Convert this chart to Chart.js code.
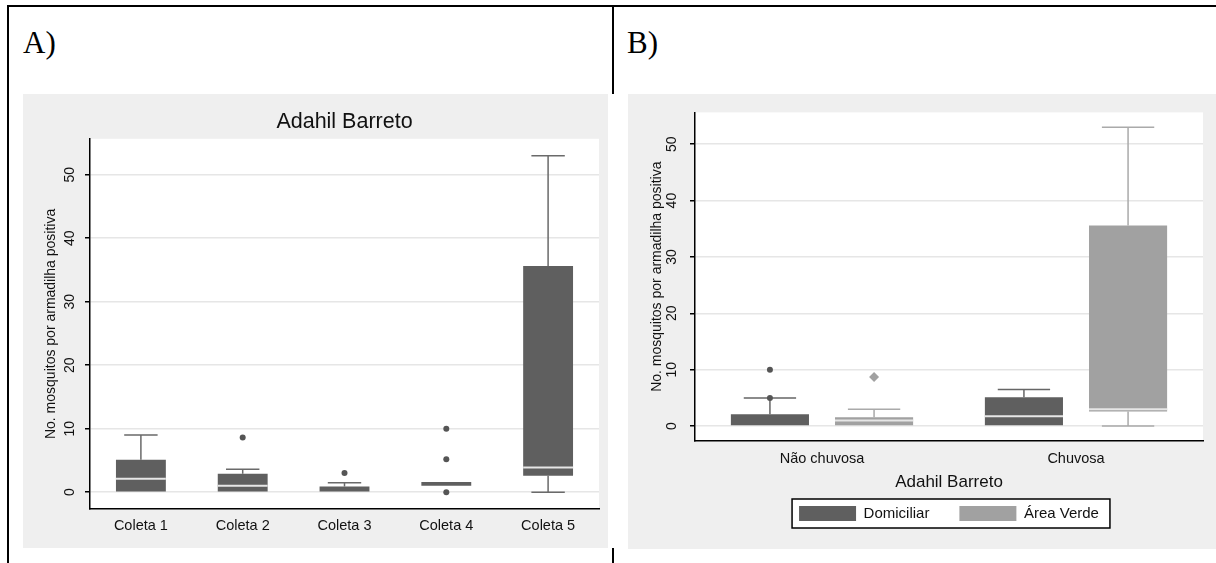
<!DOCTYPE html>
<html>
<head>
<meta charset="utf-8">
<script src="https://cdn.jsdelivr.net/npm/chart.js@4.4.1/dist/chart.umd.min.js"></script>
<style>
  body { margin: 0; width: 1216px; height: 563px; background: #fff; position: relative; overflow: hidden; }
  .rule { position: absolute; background: #000; }
  .tag { position: absolute; font-family: "Liberation Serif", "Times New Roman", serif; font-size: 31px; line-height: 1; color: #000; }
  canvas { position: absolute; }
</style>
</head>
<body>
<div class="rule" style="left:7px;top:5px;width:1209px;height:2px"></div>
<div class="rule" style="left:7px;top:5px;width:2px;height:558px"></div>
<div class="rule" style="left:612px;top:5px;width:2px;height:89px"></div>
<div class="rule" style="left:612px;top:548px;width:2px;height:15px"></div>
<div class="tag" style="left:23px;top:27px">A)</div>
<div class="tag" style="left:627px;top:27px">B)</div>

<canvas id="chart-a" width="585" height="454" style="left:23px;top:94px"></canvas>
<canvas id="chart-b" width="588" height="455" style="left:628px;top:94px"></canvas>

<script>
// ---- data ----
const yTicks = [0, 10, 20, 30, 40, 50];

// A) by collection
const coletas = ['Coleta 1', 'Coleta 2', 'Coleta 3', 'Coleta 4', 'Coleta 5'];
const colQ1  = [0, 0, 0, 1, 2.6];
const colQ3  = [5.1, 2.9, 0.9, 1.6, 35.6];
const colMed = [2.1, 1, 0, 1, 3.9];
const colLo  = [0, 0, 0, 1, 0];
const colHi  = [9, 3.6, 1.5, 1.6, 53];
const colOut = [[], [8.6], [3], [10, 5.2, 0], []];

// B) by season and place
const periodos = ['Não chuvosa', 'Chuvosa'];
const domQ1  = [0, 0];
const domQ3  = [2.1, 5.1];
const domMed = [0, 1.75];
const domLo  = [0, 0];
const domHi  = [5, 6.5];
const domOut = [[10, 5], []];
const verQ1  = [0, 2.6];
const verQ3  = [1.55, 35.6];
const verMed = [1, 3];
const verLo  = [0, 0];
const verHi  = [3, 53];
const verOut = [[8.7], []];

const DARK = '#5f5f5f';
const LIGHT = '#a1a1a1';
const FONT = '"Liberation Sans", Arial, sans-serif';
const TEXT = '#111';

// background, white plot region, legend frame, whiskers, medians, outliers
const boxPlot = {
  id: 'boxPlot',
  beforeDraw(chart) {
    const {ctx, chartArea: a} = chart;
    ctx.save();
    ctx.fillStyle = '#efefef';
    ctx.fillRect(0, 0, chart.width, chart.height);
    ctx.fillStyle = '#fff';
    ctx.fillRect(a.left, a.top, a.right - a.left, a.bottom - a.top);
    const lg = chart.legend;
    if (lg && lg.options.display && lg.legendHitBoxes && lg.legendHitBoxes.length) {
      const hb = lg.legendHitBoxes;
      const last = hb[hb.length - 1];
      const x0 = hb[0].left - 7, x1 = last.left + last.width + 11;
      const y0 = hb[0].top - 7, y1 = hb[0].top + hb[0].height + 7;
      ctx.fillRect(x0, y0, x1 - x0, y1 - y0);
      ctx.strokeStyle = '#000';
      ctx.lineWidth = 1.5;
      ctx.strokeRect(x0, y0, x1 - x0, y1 - y0);
    }
    ctx.restore();
  },
  beforeDatasetsDraw(chart) {
    const {ctx} = chart;
    const y = chart.scales.y;
    chart.data.datasets.forEach((ds, di) => {
      chart.getDatasetMeta(di).data.forEach((bar, i) => {
        const cap = bar.width * 0.67;
        const seg = (from, to) => {
          if (from === to) return;
          const p1 = y.getPixelForValue(from), p2 = y.getPixelForValue(to);
          ctx.beginPath();
          ctx.moveTo(bar.x, p1);
          ctx.lineTo(bar.x, p2);
          ctx.moveTo(bar.x - cap / 2, p2);
          ctx.lineTo(bar.x + cap / 2, p2);
          ctx.stroke();
        };
        ctx.save();
        ctx.strokeStyle = ds.whiskerColor;
        ctx.lineWidth = 1.5;
        seg(ds.q3[i], ds.hi[i]);
        seg(ds.q1[i], ds.lo[i]);
        ctx.restore();
      });
    });
  },
  afterDatasetsDraw(chart) {
    const {ctx} = chart;
    const y = chart.scales.y;
    chart.data.datasets.forEach((ds, di) => {
      chart.getDatasetMeta(di).data.forEach((bar, i) => {
        ctx.save();
        const m = ds.med[i];
        if (m > ds.q1[i] && m < ds.q3[i]) {
          const py = y.getPixelForValue(m);
          ctx.strokeStyle = '#e6e6e6';
          ctx.lineWidth = 2;
          ctx.beginPath();
          ctx.moveTo(bar.x - bar.width / 2, py);
          ctx.lineTo(bar.x + bar.width / 2, py);
          ctx.stroke();
        }
        ctx.fillStyle = ds.markerColor;
        ds.out[i].forEach(v => {
          const py = y.getPixelForValue(v);
          ctx.beginPath();
          if (ds.marker === 'diamond') {
            ctx.moveTo(bar.x, py - 5);
            ctx.lineTo(bar.x + 5, py);
            ctx.lineTo(bar.x, py + 5);
            ctx.lineTo(bar.x - 5, py);
            ctx.closePath();
          } else {
            ctx.arc(bar.x, py, 3, 0, Math.PI * 2);
          }
          ctx.fill();
        });
        ctx.restore();
      });
    });
  }
};

function boxDataset(label, q1, q3, med, lo, hi, out, color, whisker, marker, markerColor) {
  return {
    label: label,
    data: q1.map((v, i) => [v, q3[i]]),
    backgroundColor: color,
    borderWidth: 0,
    q1: q1, q3: q3, med: med, lo: lo, hi: hi, out: out,
    whiskerColor: whisker, marker: marker, markerColor: markerColor,
  };
}

function yScale(width, tickPad, titlePad) {
  return {
    min: -2.65,
    max: 55.65,
    afterBuildTicks: s => { s.ticks = yTicks.map(v => ({value: v})); },
    afterFit: s => { s.width = width; },
    grid: { color: '#e6e6e6', lineWidth: 1.5, tickColor: '#000', tickLength: 5, tickWidth: 1.5 },
    border: { color: '#000', width: 1.5 },
    ticks: {
      minRotation: 90, maxRotation: 90, crossAlign: 'center', padding: tickPad,
      color: TEXT, font: { family: FONT, size: 14 },
    },
    title: {
      display: true,
      text: 'No. mosquitos por armadilha positiva',
      color: TEXT,
      font: { family: FONT, size: 14 },
      padding: { top: titlePad, bottom: 0 },
    },
  };
}

// ---- A) ----
new Chart(document.getElementById('chart-a').getContext('2d'), {
  type: 'bar',
  data: {
    labels: coletas,
    datasets: [
      boxDataset('Coleta', colQ1, colQ3, colMed, colLo, colHi, colOut, DARK, '#6a6a6a', 'dot', '#555'),
    ],
  },
  options: {
    responsive: false,
    animation: false,
    events: [],
    layout: { padding: { left: 20, right: 9, top: 0, bottom: 0 } },
    datasets: { bar: { barPercentage: 0.49, categoryPercentage: 1 } },
    scales: {
      x: {
        afterFit: s => { s.height = 39; },
        grid: { display: false, drawTicks: false },
        border: { color: '#000', width: 1.5 },
        ticks: { padding: 8, color: TEXT, font: { family: FONT, size: 14.5 } },
      },
      y: yScale(47, 7, 0),
    },
    plugins: {
      legend: { display: false },
      tooltip: { enabled: false },
      title: {
        display: true,
        fullSize: false,
        text: 'Adahil Barreto',
        color: TEXT,
        font: { family: FONT, size: 21.5, weight: 'normal' },
        padding: { top: 15, bottom: 4 },
      },
    },
  },
  plugins: [boxPlot],
});

// ---- B) ----
new Chart(document.getElementById('chart-b').getContext('2d'), {
  type: 'bar',
  data: {
    labels: periodos,
    datasets: [
      boxDataset('Domiciliar', domQ1, domQ3, domMed, domLo, domHi, domOut, DARK, '#666', 'dot', '#555'),
      boxDataset('Área Verde', verQ1, verQ3, verMed, verLo, verHi, verOut, LIGHT, '#aaa', 'diamond', '#a1a1a1'),
    ],
  },
  options: {
    responsive: false,
    animation: false,
    events: [],
    layout: { padding: { left: 20, right: 13, top: 17, bottom: 18 } },
    datasets: { bar: { barPercentage: 0.75, categoryPercentage: 0.82 } },
    scales: {
      x: {
        afterFit: s => { s.height = 35; },
        grid: { display: false, drawTicks: false },
        border: { color: '#000', width: 1.5 },
        ticks: { padding: 9, color: TEXT, font: { family: FONT, size: 14.5 } },
        title: {
          display: true,
          text: 'Adahil Barreto',
          color: TEXT,
          font: { family: FONT, size: 17 },
          padding: { top: 0, bottom: -17 },
        },
      },
      y: yScale(47, 10, 1),
    },
    plugins: {
      legend: {
        position: 'bottom',
        fullSize: false,
        labels: {
          boxWidth: 57, boxHeight: 15, padding: 30,
          color: TEXT, font: { family: FONT, size: 15 },
        },
      },
      tooltip: { enabled: false },
    },
  },
  plugins: [boxPlot],
});
</script>
</body>
</html>
